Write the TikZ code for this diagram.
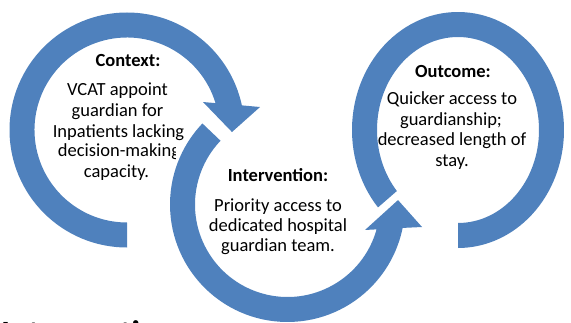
\documentclass[tikz,border=0pt]{standalone}
\usepackage{fontspec}
\setmainfont{Carlito}
\definecolor{ringblue}{HTML}{4F81BD}
\begin{document}
\begin{tikzpicture}[x=1pt,y=1pt,
  ring/.style={fill=ringblue},
  headtxt/.style={font=\fontsize{18.5}{22}\selectfont\bfseries, inner sep=0, anchor=base},
  bodytxt/.style={font=\fontsize{18.5}{22}\selectfont, inner sep=0, anchor=base}]
\useasboundingbox (0,0) rectangle (571,322);
\coordinate (L) at (127,192);
\coordinate (M) at (287.5,117.5);
\coordinate (R) at (458,192);
% left ring (Context)
\begin{scope}[shift={(L)}]
\fill[ring] (270:117.5) arc[start angle=270, end angle=12.1, radius=117.5pt]
  -- (9.8:135) -- (-1.1:105) -- (20.2:81) -- (16.9:92.5)
  arc[start angle=16.9, end angle=270, radius=92.5pt] -- cycle;
\end{scope}
% middle ring (Intervention)
\begin{scope}[shift={(M)}]
\fill[ring] (136.4:117.5) arc[start angle=136.4, end angle=348.5, radius=117.5pt]
  -- (350.5:136.4) -- (2.3:110.6) -- (341.8:81.6) -- (344.4:92.5)
  arc[start angle=344.4, end angle=136.4, radius=92.5pt] -- cycle;
\end{scope}
% right ring (Outcome)
\begin{scope}[shift={(R)}]
\fill[ring] (221:106 and 118) arc[start angle=221, end angle=-90, x radius=106pt, y radius=118pt]
  -- (-90:81 and 93)
  arc[start angle=-90, end angle=221, x radius=81pt, y radius=93pt] -- cycle;
\end{scope}
% texts
\node[headtxt] (ctxT) at (128,255) {Context:};
\node[bodytxt] (ctx1) at (117.5,226) {VCAT appoint};
\node[bodytxt] (ctx2) at (117.5,205.5) {guardian for};
\node[bodytxt] (ctx3) at (118.5,185) {Inpatients lacking};
\begin{scope}
\clip (0,150) rectangle (175.5,182);
\node[bodytxt] (ctx4) at (119,165) {decision-making};
\end{scope}
\node[bodytxt] (ctx5) at (116.5,144.5) {capacity.};
\node[headtxt] (intT) at (278,140) {Intervention:};
\node[bodytxt] (int1) at (278,111) {Priority access to};
\node[bodytxt] (int2) at (278,91) {dedicated hospital};
\node[bodytxt] (int3) at (278,71) {guardian team.};
\node[headtxt] (outT) at (453,244) {Outcome:};
\node[bodytxt] (out1) at (452,217) {Quicker access to};
\node[bodytxt] (out2) at (451,196.5) {guardianship;};
\node[bodytxt] (out3) at (452,176) {decreased length of};
\node[bodytxt] (out4) at (452,155.5) {stay.};
\begin{scope}
\clip (0,0) rectangle (571,322);
\node[font=\fontsize{34}{40}\selectfont\bfseries, inner sep=0, anchor=base west] (botT) at (1,-22) {Intervention};
\end{scope}
\end{tikzpicture}
\end{document}
